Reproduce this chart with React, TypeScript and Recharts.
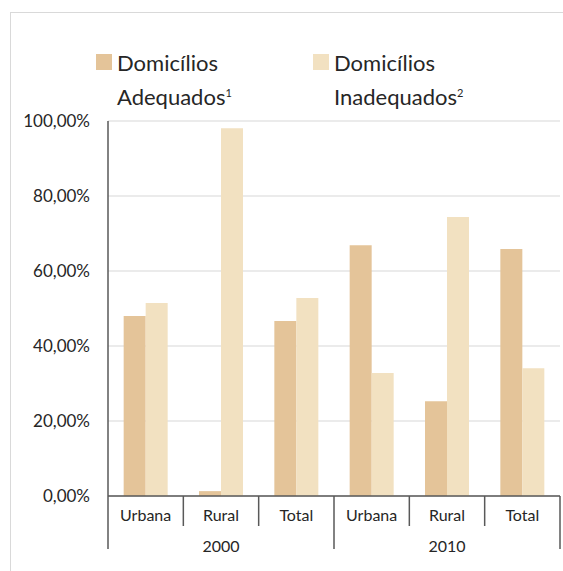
import { BarChart, Bar, XAxis, YAxis, CartesianGrid } from "recharts";

const categories = ["Urbana", "Rural", "Total", "Urbana", "Rural", "Total"];
const years = ["2000", "2000", "2000", "2010", "2010", "2010"];
const adequados = [0.48, 0.013, 0.467, 0.669, 0.253, 0.659];
const inadequados = [0.515, 0.981, 0.528, 0.328, 0.744, 0.341];
const yTicks = [0, 0.2, 0.4, 0.6, 0.8, 1];

const data = categories.map((cat, i) => ({
  cat,
  year: years[i],
  adequados: adequados[i],
  inadequados: inadequados[i],
}));

const W = 563;
const H = 571;
const X_AXIS_H = 60;
const M = { top: 121, right: 3, bottom: 75 - X_AXIS_H, left: 48 };
const Y_AXIS_W = 60;
const PLOT_W = W - M.left - Y_AXIS_W - M.right;
const BAND = PLOT_W / categories.length;

const FONT = "Lato, 'Open Sans', sans-serif";
const TEXT = "#262626";
const AXIS_COLOR = "#595959";
const C_ADEQ = "#E4C499";
const C_INADEQ = "#F2E1C1";

function CatTick(props: any) {
  const { x, y, payload, index } = props;
  // tick y comes in shifted by tickSize + tickMargin (8), go back to the axis line
  const y0 = y - 8;
  const left = x - BAND / 2;
  const right = x + BAND / 2;
  const groupStart = index % 3 === 0;
  const groupEnd = index === categories.length - 1;
  return (
    <g>
      <line x1={left} x2={left} y1={y0} y2={y0 + (groupStart ? 53 : 30)} stroke={AXIS_COLOR} strokeWidth={1.5} />
      {groupEnd && (
        <line x1={right} x2={right} y1={y0} y2={y0 + 53} stroke={AXIS_COLOR} strokeWidth={1.5} />
      )}
      <text x={x} y={y0 + 25} textAnchor="middle" fontSize={16} fill={TEXT} fontFamily={FONT}>
        {payload.value}
      </text>
      {index % 3 === 1 && (
        <text x={x} y={y0 + 56} textAnchor="middle" fontSize={16} fill={TEXT} fontFamily={FONT}>
          {data[index].year}
        </text>
      )}
    </g>
  );
}

function LegendBox() {
  const items = [
    { color: C_ADEQ, l1: "Domicílios", l2: "Adequados", sup: "1", x: 96 },
    { color: C_INADEQ, l1: "Domicílios", l2: "Inadequados", sup: "2", x: 313 },
  ];
  return (
    <div style={{ position: "absolute", left: 0, top: 48, fontFamily: FONT, color: TEXT }}>
      {items.map((it) => (
        <div key={it.l2} style={{ position: "absolute", left: it.x, top: 0 }}>
          <div style={{ position: "absolute", left: 0, top: 6, width: 16, height: 16, background: it.color }} />
          <div style={{ position: "absolute", left: 21, top: 0, fontSize: 22, lineHeight: "30px", whiteSpace: "nowrap" }}>
            {it.l1}
            <br />
            {it.l2}
            <sup style={{ fontSize: 11 }}>{it.sup}</sup>
          </div>
        </div>
      ))}
    </div>
  );
}

export default function App() {
  return (
    <div style={{ position: "absolute", left: 0, top: 0, width: W, height: H, background: "#fff", overflow: "hidden" }}>
      <div
        style={{
          position: "absolute",
          left: 10,
          top: 12,
          width: W,
          height: H,
          borderLeft: "1px solid #d9d9d9",
          borderTop: "1px solid #d9d9d9",
        }}
      />
      <LegendBox />
      <BarChart
        width={W}
        height={H}
        data={data}
        margin={M}
        barCategoryGap="20.8%"
        barGap={0}
        style={{ position: "absolute", left: 0, top: 0 }}
      >
        <CartesianGrid vertical={false} stroke="#e4e4e4" strokeWidth={1.5} />
        <YAxis
          width={Y_AXIS_W}
          domain={[0, 1]}
          ticks={yTicks}
          tickFormatter={(v: number) => (v * 100).toFixed(2).replace(".", ",") + "%"}
          axisLine={{ stroke: AXIS_COLOR, strokeWidth: 1.5 }}
          tickLine={false}
          tickSize={16}
          tickMargin={2}
          tick={{ fontSize: 17, fill: TEXT, fontFamily: FONT }}
        />
        <XAxis
          dataKey="cat"
          interval={0}
          axisLine={{ stroke: AXIS_COLOR, strokeWidth: 1.5 }}
          tickLine={false}
          tick={<CatTick />}
          height={X_AXIS_H}
        />
        <Bar dataKey="adequados" fill={C_ADEQ} isAnimationActive={false} />
        <Bar dataKey="inadequados" fill={C_INADEQ} isAnimationActive={false} />
      </BarChart>
    </div>
  );
}
